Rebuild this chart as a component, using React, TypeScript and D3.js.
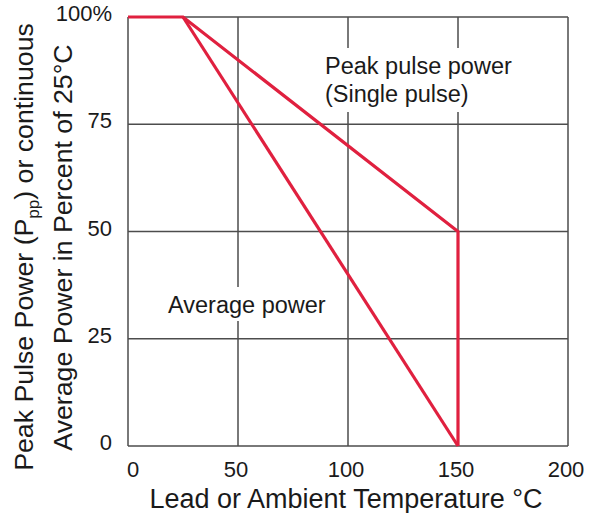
import React from "react";
import * as d3 from "d3";

const xTicks = [0, 50, 100, 150, 200];
const yTicks = [0, 25, 50, 75, 100];
const yTickLabels = ["0", "25", "50", "75", "100%"];
const peakX = [0, 25, 150, 150];
const peakY = [100, 100, 50, 0];
const avgX = [25, 150];
const avgY = [100, 0];

const W = 590, H = 513;
const left = 128, right = 568, top = 17, bottom = 446;
const RED = "#e0203f";
const GRID = "#4d4d4d";
const TXT = "#1a1a1a";
const FONT = "Liberation Sans, Arial, sans-serif";

export default function App() {
  const x = d3.scaleLinear().domain([0, 200]).range([left, right]);
  const y = d3.scaleLinear().domain([0, 100]).range([bottom, top]);
  const line = d3.line<[number, number]>().x(d => x(d[0])).y(d => y(d[1]));
  const peak = peakX.map((v, i) => [v, peakY[i]] as [number, number]);
  const avg = avgX.map((v, i) => [v, avgY[i]] as [number, number]);
  return (
    <svg width={W} height={H} style={{ position: "absolute", left: 0, top: 0, background: "#fff" }} fontFamily={FONT}>
      <rect width={W} height={H} fill="#fff" />
      {xTicks.map(t => (
        <line key={"gx" + t} x1={x(t)} x2={x(t)} y1={y(0)} y2={y(100)} stroke={GRID} strokeWidth={1.5} />
      ))}
      {yTicks.map(t => (
        <line key={"gy" + t} x1={x(0)} x2={x(200)} y1={y(t)} y2={y(t)} stroke={GRID} strokeWidth={1.5} />
      ))}
      {/* text backgrounds */}
      <rect x={320} y={48} width={200} height={64} fill="#fff" />
      <rect x={163} y={287} width={172} height={34} fill="#fff" />
      <path d={line(peak) || ""} fill="none" stroke={RED} strokeWidth={3.2} strokeLinejoin="miter" />
      <path d={line(avg) || ""} fill="none" stroke={RED} strokeWidth={3.2} />
      <text x={325} y={74} fontSize={23.5} fill={TXT}>Peak pulse power</text>
      <text x={325} y={102} fontSize={23.5} fill={TXT}>(Single pulse)</text>
      <text x={168} y={313} fontSize={23.5} fill={TXT}>Average power</text>
      {yTicks.map((t, i) => (
        <text key={"yl" + t} x={112} y={y(t) + 4} textAnchor="end" fontSize={22} fill={TXT}>{yTickLabels[i]}</text>
      ))}
      {xTicks.map(t => (
        <text key={"xl" + t} x={x(t) + (t === 0 ? 5 : -2)} y={477} textAnchor="middle" fontSize={22} fill={TXT}>{t}</text>
      ))}
      <text x={346} y={508} textAnchor="middle" fontSize={27} fill={TXT}>Lead or Ambient Temperature °C</text>
      <g transform="translate(33,247) rotate(-90)">
        <text x={0} y={0} textAnchor="middle" fontSize={26.7} fill={TXT}>
          Peak Pulse Power (P<tspan fontSize={17} dy={6}>pp</tspan><tspan dy={-6}>) or continuous</tspan>
        </text>
      </g>
      <g transform="translate(72,247.5) rotate(-90)">
        <text x={0} y={0} textAnchor="middle" fontSize={26.7} fill={TXT}>Average Power in Percent of 25°C</text>
      </g>
    </svg>
  );
}
